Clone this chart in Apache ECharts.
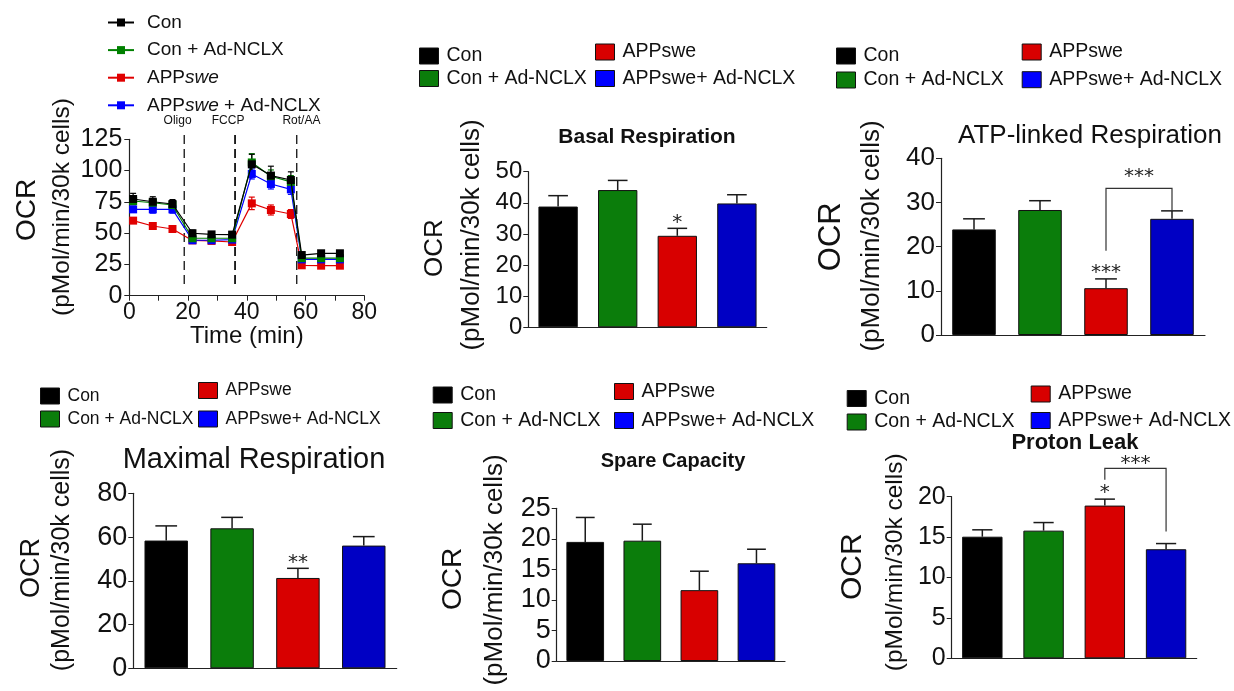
<!DOCTYPE html>
<html><head><meta charset="utf-8">
<script src="https://cdn.jsdelivr.net/npm/echarts@6/dist/echarts.min.js"></script>
<style>html,body{margin:0;padding:0;background:#fff}#c{width:1234px;height:691px}</style>
</head><body><div id="c"></div>
<script>
const FONT = '"Liberation Sans", Arial, Helvetica, sans-serif';
const STAR_FONT = '"DejaVu Sans", sans-serif';
const INK = '#111';

// ---- Panel A: OCR time course ----
const timeMin      = [1.3, 8, 14.7, 21.5, 28, 35, 41.7, 48.2, 55, 58.7, 65.3, 71.7];
const ocrCon       = [77.3, 75.1, 73.3, 49.9, 49.0, 48.8, 105.0, 96.0, 92.5, 32.5, 33.9, 33.9];
const ocrConErr    = [4.5, 4.0, 3.5, 2.5, 2.0, 2.5, 8.0, 7.5, 6.5, 2.0, 2.0, 2.0];
const ocrConN      = [75.7, 74.3, 72.5, 45.9, 45.9, 45.9, 106.5, 95.5, 91.0, 30.0, 30.0, 30.0];
const ocrConNErr   = [3.0, 3.0, 3.0, 2.0, 2.0, 2.0, 7.0, 5.0, 5.0, 1.5, 1.5, 1.5];
const ocrApp       = [60.0, 55.7, 53.3, 44.2, 43.8, 42.9, 73.8, 68.5, 65.3, 24.3, 24.0, 24.0];
const ocrAppErr    = [1.5, 1.5, 1.5, 1.5, 1.5, 1.5, 5.0, 4.0, 3.5, 1.5, 1.5, 1.5];
const ocrAppN      = [69.0, 69.0, 69.0, 44.3, 44.3, 44.8, 97.3, 89.3, 85.0, 29.0, 29.0, 29.0];
const ocrAppNErr   = [2.0, 3.0, 3.0, 1.5, 1.5, 1.5, 4.0, 4.0, 4.0, 1.5, 1.5, 1.5];
const lineNames    = ['Con', 'Con + Ad-NCLX', 'APPswe', 'APPswe + Ad-NCLX'];
const injections   = ['Oligo', 'FCCP', 'Rot/AA'];
const injectionTime= [18.7, 36, 57];

// ---- Bar panels ----
const groups     = ['Con', 'Con + Ad-NCLX', 'APPswe', 'APPswe+ Ad-NCLX'];
const basalMean  = [38.8, 44.1, 29.4, 39.8];
const basalErr   = [3.5, 3.1, 2.4, 2.8];
const basalStars = ['', '', '*', ''];
const atpMean    = [23.9, 28.3, 10.6, 26.3];
const atpErr     = [2.4, 2.1, 2.1, 1.8];
const atpStars   = ['', '', '***', ''];
const atpBracket = [2, 3, 19.1, 33.2, 28.3, '***', 36.7];   // from, to, left foot, top, right foot, label, label level
const maxMean    = [58.4, 64.0, 41.3, 56.1];
const maxErr     = [6.7, 5.0, 4.4, 4.1];
const maxStars   = ['', '', '**', ''];
const spareMean  = [19.5, 19.7, 11.6, 16.0];
const spareErr   = [4.0, 2.7, 3.1, 2.3];
const spareStars = ['', '', '', ''];
const leakMean   = [15.05, 15.8, 18.9, 13.5];
const leakErr    = [0.85, 1.0, 0.8, 0.7];
const leakStars  = ['', '', '*', ''];
const leakBracket= [2, 3, 22.1, 23.5, 15.7, '***', 24.6];

const lineColors = ['#000000', '#008000', '#e00000', '#0000ff'];
const barColors  = ['#000000', '#0b7d0b', '#d80000', '#0000c4'];
const legendColors = ['#000000', '#0b7d0b', '#d80000', '#0000ff'];

const chart = echarts.init(document.getElementById('c'));

const grids = [], xAxes = [], yAxes = [], series = [], titles = [], legends = [], graphics = [];

// ---------- Panel A ----------
grids.push({left: 129.3, top: 139.3, width: 235, height: 156.4});
xAxes.push({type: 'value', gridIndex: 0, min: 0, max: 80, interval: 20,
  name: 'Time (min)', nameLocation: 'middle', nameGap: 28,
  nameTextStyle: {fontSize: 24, fontFamily: FONT, color: INK},
  axisLine: {lineStyle: {color: '#222', width: 1.2}},
  axisTick: {show: true, length: 5, lineStyle: {color: '#222'}},
  minorTick: {show: true, splitNumber: 2, length: 5, lineStyle: {color: '#222'}},
  splitLine: {show: false},
  axisLabel: {fontSize: 23, fontFamily: FONT, color: INK, margin: 5}});
yAxes.push({type: 'value', gridIndex: 0, min: 0, max: 125, interval: 25,
  axisLine: {show: true, lineStyle: {color: '#222', width: 1.2}},
  axisTick: {show: true, length: 5, lineStyle: {color: '#222'}},
  splitLine: {show: false},
  axisLabel: {fontSize: 25, fontFamily: FONT, color: INK, margin: 7}});

const lineSets = [
  {mean: ocrCon, err: ocrConErr},
  {mean: ocrConN, err: ocrConNErr},
  {mean: ocrApp, err: ocrAppErr},
  {mean: ocrAppN, err: ocrAppNErr}
];
function lineErrRender(color) {
  return function (params, api) {
    const t = api.value(0), m = api.value(1), e = api.value(2);
    const lo = api.coord([t, m - e]), hi = api.coord([t, m + e]);
    const h = 3;
    const st = {stroke: color, lineWidth: 1.2};
    return {type: 'group', children: [
      {type: 'line', shape: {x1: lo[0], y1: lo[1], x2: hi[0], y2: hi[1]}, style: st},
      {type: 'line', shape: {x1: hi[0] - h, y1: hi[1], x2: hi[0] + h, y2: hi[1]}, style: st},
      {type: 'line', shape: {x1: lo[0] - h, y1: lo[1], x2: lo[0] + h, y2: lo[1]}, style: st}
    ]};
  };
}
// injection markers (dashed verticals with labels)
const injLabelShift = [-6.6, -7, 4.7];
series.push({type: 'custom', xAxisIndex: 0, yAxisIndex: 0, silent: true, z: 1,
  renderItem: function (params, api) {
    const t = api.value(0);
    const top = api.coord([t, api.value(2)]), bot = api.coord([t, api.value(1)]);
    const k = params.dataIndex;
    return {type: 'group', children: [
      {type: 'line', shape: {x1: top[0], y1: top[1], x2: bot[0], y2: bot[1]},
       style: {stroke: '#111', lineWidth: k === 1 ? 1.8 : 1.3, lineDash: [9, 5]}},
      {type: 'text', x: top[0] + injLabelShift[k], y: top[1] - 14,
       style: {text: injections[k], fontSize: 12, fontFamily: FONT, fill: INK,
               textAlign: 'center', textVerticalAlign: 'middle'}}
    ]};
  },
  data: injectionTime.map(t => [t, 7, 128.4])});

// draw order: red, blue, green, black (black on top)
const drawOrder = [2, 3, 1, 0];
drawOrder.forEach(function (gi) {
  const s = lineSets[gi];
  series.push({type: 'custom', xAxisIndex: 0, yAxisIndex: 0, silent: true,
    renderItem: lineErrRender(lineColors[gi]),
    data: timeMin.map((t, i) => [t, s.mean[i], s.err[i]]),
    z: 2});
});
// line series must be registered first so the line legend picks them
const lineSeries = [];
drawOrder.forEach(function (gi) {
  const s = lineSets[gi];
  lineSeries.push({
    type: 'line', name: lineNames[gi], xAxisIndex: 0, yAxisIndex: 0,
    data: timeMin.map((t, i) => [t, s.mean[i]]),
    symbol: 'rect', symbolSize: 8,
    lineStyle: {color: lineColors[gi], width: 1.2},
    itemStyle: {color: lineColors[gi]},
    z: 3 + drawOrder.indexOf(gi)
  });
});
series.unshift.apply(series, lineSeries);

// ---------- Bar panels ----------
const panels = [
  {title: 'Basal Respiration', tx: 647, ty: 126.5, tsize: 21, tweight: 'bold',
   grid: {left: 528.3, top: 171.7, width: 238.4, height: 155.6}, max: 50, interval: 10, tick: 24,
   mean: basalMean, err: basalErr, stars: basalStars, bracket: null,
   ocr: [435, 248, 26], unit: [471.7, 235, 26], legFont: 19.5,
   legL: [419, 46, 2.5], legR: [595, 42, 6.5]},
  {title: 'ATP-linked Respiration', tx: 1090, ty: 123, tsize: 26, tweight: 'normal',
   grid: {left: 941, top: 158.3, width: 264, height: 176.7}, max: 40, interval: 10, tick: 26,
   mean: atpMean, err: atpErr, stars: atpStars, bracket: atpBracket,
   ocr: [831.7, 236.7, 31], unit: [871.7, 236, 26], legFont: 19.5,
   legL: [836, 46, 4], legR: [1021.7, 42, 7.7]},
  {title: 'Maximal Respiration', tx: 254, ty: 445, tsize: 29, tweight: 'normal',
   grid: {left: 133.3, top: 493.3, width: 263.4, height: 175}, max: 80, interval: 20, tick: 27,
   mean: maxMean, err: maxErr, stars: maxStars, bracket: null,
   ocr: [31.7, 568, 27], unit: [62, 560, 25], legFont: 17.5,
   legL: [40, 387, 5], legR: [198, 381.5, 10.5]},
  {title: 'Spare Capacity', tx: 673, ty: 451, tsize: 20, tweight: 'bold',
   grid: {left: 556.7, top: 508.3, width: 228.3, height: 152.7}, max: 25, interval: 5, tick: 27,
   mean: spareMean, err: spareErr, stars: spareStars, bracket: null,
   ocr: [453, 579, 28], unit: [495, 570, 26], legFont: 19.5,
   legL: [432.7, 385, 5.5], legR: [614, 381.5, 9]},
  {title: 'Proton Leak', tx: 1075, ty: 432, tsize: 22, tweight: 'bold',
   grid: {left: 951.7, top: 496.7, width: 245, height: 161.6}, max: 20, interval: 5, tick: 25,
   mean: leakMean, err: leakErr, stars: leakStars, bracket: leakBracket,
   ocr: [853, 566.7, 30], unit: [895, 562.3, 24.5], legFont: 19.5,
   legL: [846.7, 388.5, 3.5], legR: [1030.7, 384, 6.5]}
];

function barErrRender(stars) {
  return function (params, api) {
    const i = api.value(0), m = api.value(1), e = api.value(2);
    const base = api.coord([i, m]), top = api.coord([i, m + e]);
    const bw = api.size([1, 0])[0] * 0.66;
    const half = bw * 0.25;
    const st = {stroke: '#1a1a1a', lineWidth: 1.5};
    const ch = [
      {type: 'line', shape: {x1: base[0], y1: base[1], x2: top[0], y2: top[1]}, style: st},
      {type: 'line', shape: {x1: top[0] - half, y1: top[1], x2: top[0] + half, y2: top[1]}, style: st}
    ];
    const s = stars[params.dataIndex];
    if (s) {
      ch.push({type: 'text', x: top[0], y: top[1] - 6,
        style: {text: s, fontSize: 20, fontFamily: STAR_FONT, fill: '#222',
                textAlign: 'center', textVerticalAlign: 'middle'}});
    }
    return {type: 'group', children: ch};
  };
}
function bracketRender(b) {
  return function (params, api) {
    const a = api.coord([b[0], b[2]]), t1 = api.coord([b[0], b[3]]);
    const t2 = api.coord([b[1], b[3]]), c = api.coord([b[1], b[4]]);
    const lab = api.coord([b[0], b[6]]);
    return {type: 'group', children: [
      {type: 'polyline', shape: {points: [a, t1, t2, c]}, style: {stroke: '#333', lineWidth: 1.2, fill: null}},
      {type: 'text', x: (t1[0] + t2[0]) / 2, y: lab[1] + 4,
       style: {text: b[5], fontSize: 20, fontFamily: STAR_FONT, fill: '#222',
               textAlign: 'center', textVerticalAlign: 'middle'}}
    ]};
  };
}

panels.forEach(function (p, k) {
  const gi = k + 1;
  grids.push(p.grid);
  xAxes.push({type: 'category', gridIndex: gi, data: groups,
    axisLine: {lineStyle: {color: '#222', width: 1.2}},
    axisTick: {show: false}, axisLabel: {show: false}, splitLine: {show: false}});
  yAxes.push({type: 'value', gridIndex: gi, min: 0, max: p.max, interval: p.interval,
    axisLine: {show: true, lineStyle: {color: '#222', width: 1.2}},
    axisTick: {show: true, length: 5, lineStyle: {color: '#222'}},
    splitLine: {show: false},
    axisLabel: {fontSize: p.tick, fontFamily: FONT, color: INK, margin: 6}});
  groups.forEach(function (g, j) {
    series.push({type: 'bar', name: g, xAxisIndex: gi, yAxisIndex: gi, stack: 'st' + gi,
      barWidth: '66%',
      data: p.mean.map((v, i) => (i === j ? v : '-')),
      itemStyle: {color: barColors[j], borderColor: '#111', borderWidth: 1}});
  });
  series.push({type: 'custom', xAxisIndex: gi, yAxisIndex: gi, silent: true, z: 5,
    renderItem: barErrRender(p.stars),
    data: p.mean.map((v, i) => [i, v, p.err[i]])});
  if (p.bracket) {
    series.push({type: 'custom', xAxisIndex: gi, yAxisIndex: gi, silent: true, z: 5,
      renderItem: bracketRender(p.bracket),
      data: [[p.bracket[0], p.bracket[3]]]});
  }
  titles.push({text: p.title, left: p.tx, top: p.ty, textAlign: 'center', padding: 0,
    textStyle: {fontSize: p.tsize, fontWeight: p.tweight, fontFamily: FONT, color: INK}});
  graphics.push({type: 'text', x: p.ocr[0], y: p.ocr[1], rotation: Math.PI / 2,
    style: {text: 'OCR', fontSize: p.ocr[2], fontFamily: FONT, fill: INK, textAlign: 'center', textVerticalAlign: 'middle'}});
  graphics.push({type: 'text', x: p.unit[0], y: p.unit[1], rotation: Math.PI / 2,
    style: {text: '(pMol/min/30k cells)', fontSize: p.unit[2], fontFamily: FONT, fill: INK, textAlign: 'center', textVerticalAlign: 'middle'}});
  const mk = (j) => ({name: groups[j], icon: 'rect',
    itemStyle: {color: legendColors[j], borderColor: '#111', borderWidth: 1}});
  const txt = {fontSize: p.legFont, lineHeight: 18, fontFamily: FONT, color: INK, padding: [0, 0, 0, 3]};
  legends.push({orient: 'vertical', left: p.legL[0], top: p.legL[1], padding: 0,
    itemWidth: 19, itemHeight: 16, itemGap: p.legL[2], selectedMode: false,
    textStyle: txt, data: [mk(0), mk(1)]});
  legends.push({orient: 'vertical', left: p.legR[0], top: p.legR[1], padding: 0,
    itemWidth: 19, itemHeight: 16, itemGap: p.legR[2], selectedMode: false,
    textStyle: txt, data: [mk(2), mk(3)]});
});

// Panel A legend and axis titles
legends.push({orient: 'vertical', left: 107, top: 13, padding: 0,
  itemWidth: 26, itemHeight: 10, itemGap: 8.6, selectedMode: false,
  formatter: (n) => n.replace('APPswe', 'APP{i|swe}'),
  textStyle: {fontSize: 19, lineHeight: 18, fontFamily: FONT, color: INK, padding: [0, 0, 0, 8],
    rich: {i: {fontStyle: 'italic', fontSize: 19, fontFamily: FONT, color: INK}}},
  data: lineNames});
graphics.push({type: 'text', x: 27, y: 210, rotation: Math.PI / 2,
  style: {text: 'OCR', fontSize: 28, fontFamily: FONT, fill: INK, textAlign: 'center', textVerticalAlign: 'middle'}});
graphics.push({type: 'text', x: 62.5, y: 207, rotation: Math.PI / 2,
  style: {text: '(pMol/min/30k cells)', fontSize: 24.5, fontFamily: FONT, fill: INK, textAlign: 'center', textVerticalAlign: 'middle'}});

chart.setOption({
  animation: false,
  backgroundColor: '#fff',
  title: titles,
  legend: legends,
  grid: grids,
  xAxis: xAxes,
  yAxis: yAxes,
  series: series,
  graphic: graphics
});
</script></body></html>
